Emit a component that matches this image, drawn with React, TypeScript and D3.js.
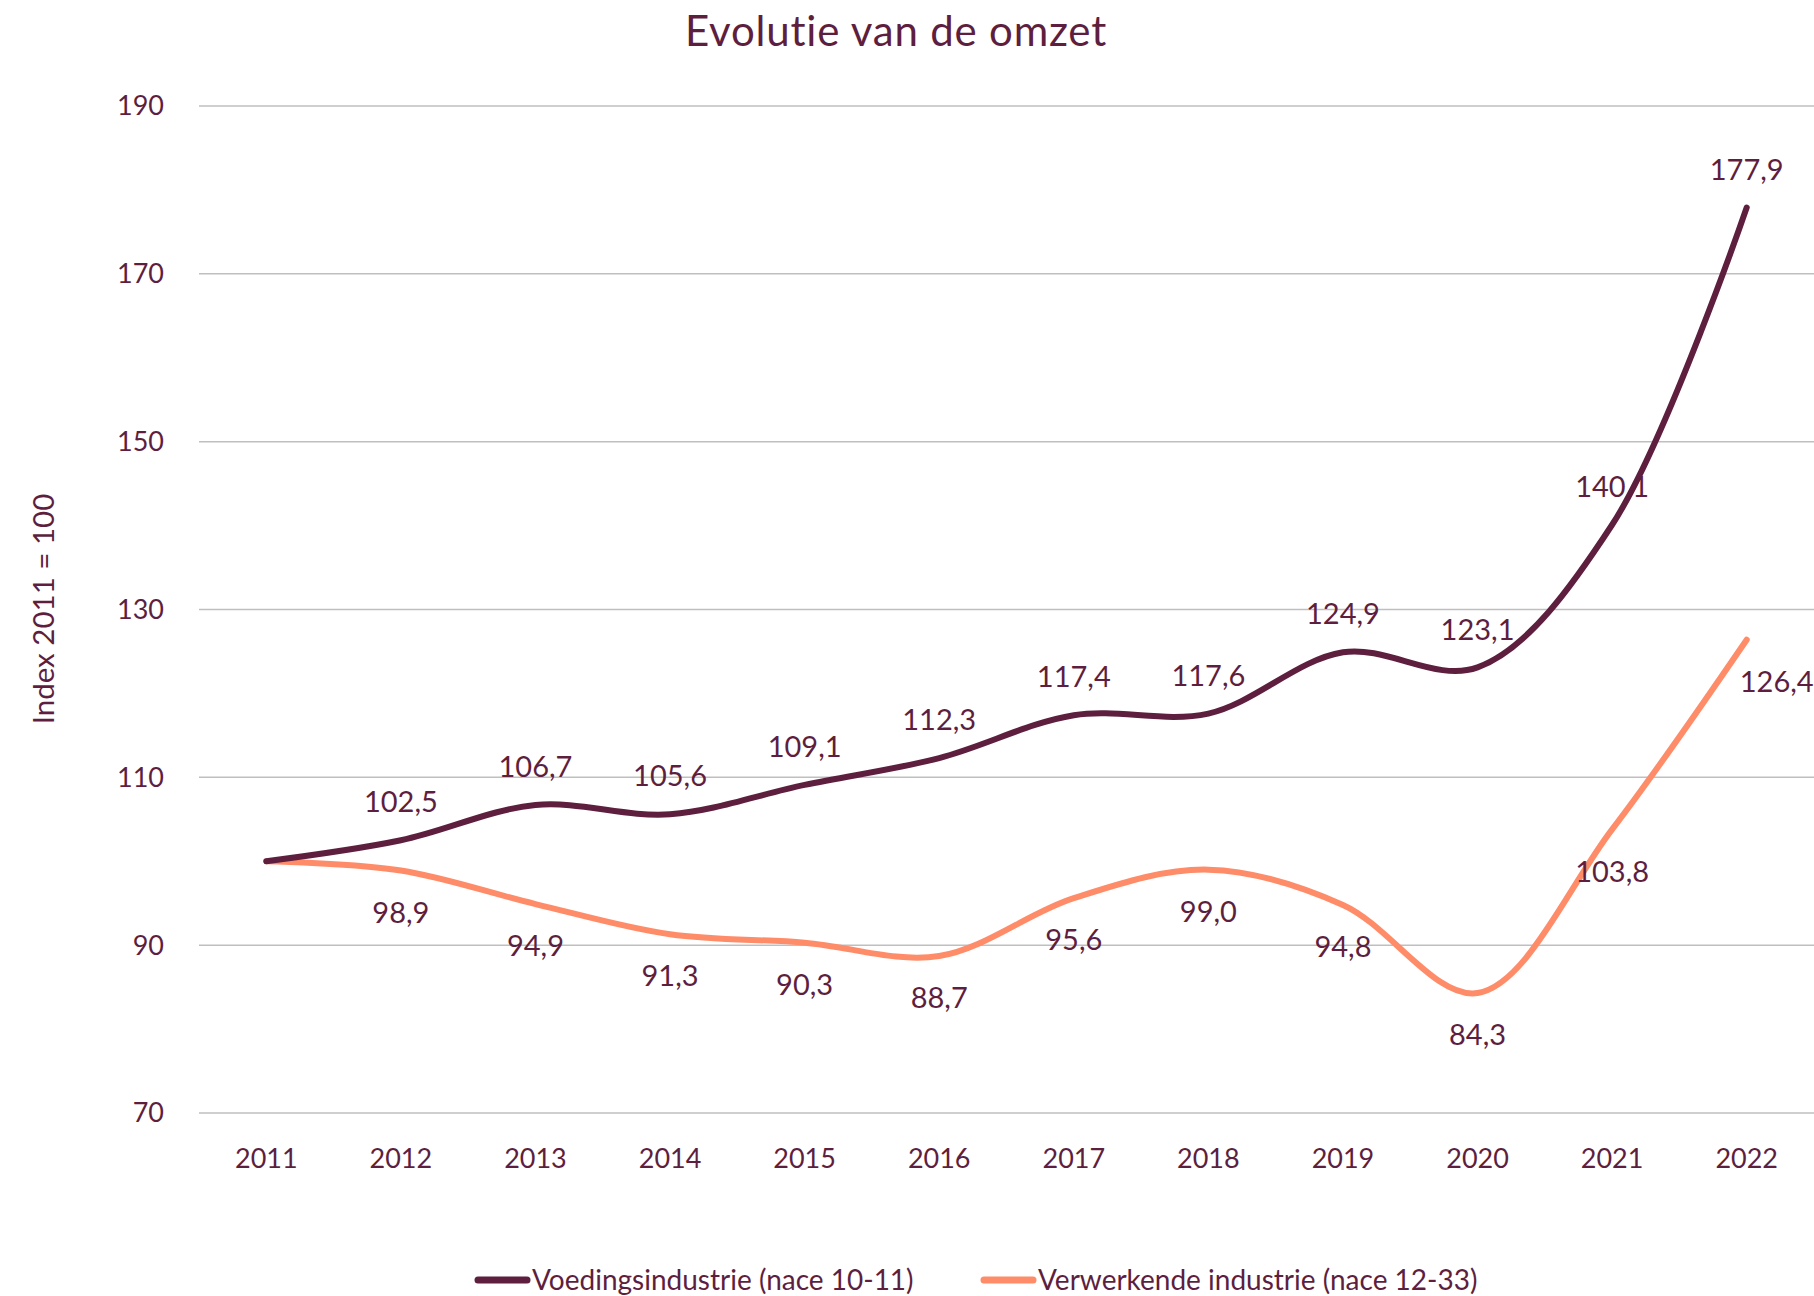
import React from "react";
import * as d3 from "d3";

const years = ["2011","2012","2013","2014","2015","2016","2017","2018","2019","2020","2021","2022"];
const voeding = [100, 102.5, 106.7, 105.6, 109.1, 112.3, 117.4, 117.6, 124.9, 123.1, 140.1, 177.9];
const verwerkend = [100, 98.9, 94.9, 91.3, 90.3, 88.7, 95.6, 99.0, 94.8, 84.3, 103.8, 126.4];
const yTicks = [70, 90, 110, 130, 150, 170, 190];
const seriesNames = ["Voedingsindustrie (nace 10-11)", "Verwerkende industrie (nace 12-33)"];

const W = 1814, H = 1296;
const MAROON = "#5E1F3F";
const ORANGE = "#FF8C69";
const FONT = "Lato, 'Open Sans', sans-serif";

export default function App() {
  const x = d3.scaleBand<string>().domain(years).range([199, 1814]);
  const y = d3.scaleLinear().domain([70, 190]).range([1113, 106]);
  const cx = (d: string) => (x(d) as number) + x.bandwidth() / 2;
  const line = d3.line<number>()
    .x((_, i) => cx(years[i]))
    .y((d) => y(d))
    .curve(d3.curveCatmullRom.alpha(0.5));

  const fmt = (v: number) => v.toFixed(1).replace(".", ",");

  return (
    <svg width={W} height={H} style={{ position: "absolute", left: 0, top: 0, background: "#fff" }} fontFamily={FONT}>
      <rect width={W} height={H} fill="#fff" />
      <text x={896} y={46} textAnchor="middle" fontSize={42} letterSpacing={0.8} fill={MAROON}>Evolutie van de omzet</text>
      {yTicks.map((t) => (
        <g key={t}>
          <line x1={199} x2={1814} y1={y(t)} y2={y(t)} stroke="#BFBFBF" strokeWidth={1.5} />
          <text x={164} y={y(t)} dy="0.35em" textAnchor="end" fontSize={27} fill={MAROON}>{t}</text>
        </g>
      ))}
      <text transform={`translate(54,609) rotate(-90)`} textAnchor="middle" fontSize={29.5} fill={MAROON}>Index 2011 = 100</text>
      {years.map((yr) => (
        <text key={yr} x={cx(yr)} y={1159} dy="0.35em" textAnchor="middle" fontSize={27} fill={MAROON}>{yr}</text>
      ))}
      <path d={line(verwerkend) || ""} fill="none" stroke={ORANGE} strokeWidth={6} strokeLinecap="round" />
      <path d={line(voeding) || ""} fill="none" stroke={MAROON} strokeWidth={6} strokeLinecap="round" />
      {voeding.map((v, i) => i === 0 ? null : (
        <text key={"a" + i} x={cx(years[i])} y={y(v) - 38} dy="0.35em" textAnchor="middle" fontSize={29} fill={MAROON}>{fmt(v)}</text>
      ))}
      {verwerkend.map((v, i) => i === 0 ? null : (
        <text key={"b" + i} x={cx(years[i]) + (i === years.length - 1 ? 30 : 0)} y={y(v) + 42} dy="0.35em" textAnchor="middle" fontSize={29} fill={MAROON}>{fmt(v)}</text>
      ))}
      <line x1={478} x2={527} y1={1280} y2={1280} stroke={MAROON} strokeWidth={7} strokeLinecap="round" />
      <text x={532} y={1280} dy="0.35em" fontSize={28} fill={MAROON}>{seriesNames[0]}</text>
      <line x1={984} x2={1033} y1={1280} y2={1280} stroke={ORANGE} strokeWidth={7} strokeLinecap="round" />
      <text x={1038} y={1280} dy="0.35em" fontSize={28} fill={MAROON}>{seriesNames[1]}</text>
    </svg>
  );
}
